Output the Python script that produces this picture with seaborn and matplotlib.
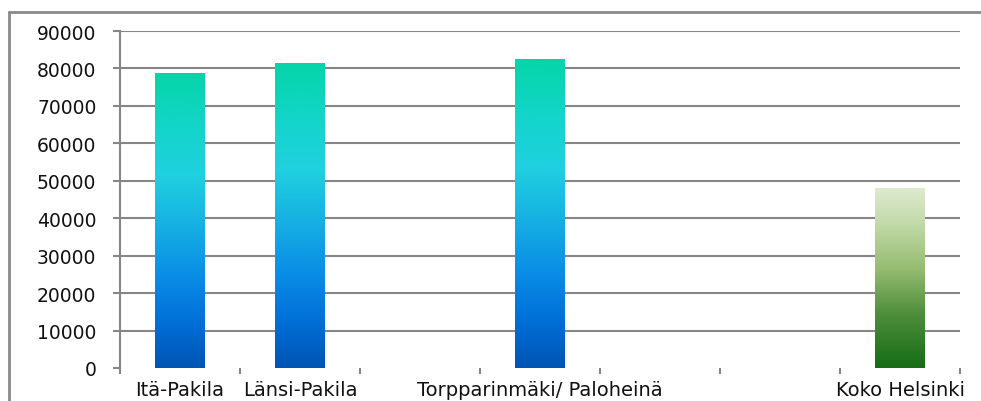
import numpy as np
import pandas as pd
import matplotlib
matplotlib.use("Agg")
import matplotlib.pyplot as plt
from matplotlib.colors import LinearSegmentedColormap
from matplotlib.lines import Line2D
import seaborn as sns

# Category slots along the x axis (blank slots keep their spacing)
slots = ["Itä-Pakila", "Länsi-Pakila", " ", "Torpparinmäki/ Paloheinä", "  ", "   ", "Koko Helsinki"]
areas = ["Itä-Pakila", "Länsi-Pakila", "Torpparinmäki/ Paloheinä", "Koko Helsinki"]
values = [78800, 81400, 82500, 48000]
yticks = [0, 10000, 20000, 30000, 40000, 50000, 60000, 70000, 80000, 90000]

df = pd.DataFrame({"alue": areas, "arvo": values})

sns.set_theme(style="white")
plt.rcParams["font.family"] = ["DejaVu Sans"]

fig = plt.figure(figsize=(9.81, 4.02), dpi=100)
ax = fig.add_axes([120 / 981, 33 / 402, 840 / 981, 337 / 402])

sns.barplot(data=df, x="alue", y="arvo", order=slots, width=0.41,
            color="#1a9be0", ax=ax, zorder=3)

# Vertical gradient fills for the bars
blue = LinearSegmentedColormap.from_list("blue", [
    (0.0, "#0054B3"), (0.15, "#006FD7"), (0.3, "#0A8BE6"),
    (0.5, "#17B4E2"), (0.65, "#20D0E0"), (0.8, "#14D5CC"), (1.0, "#05D5A8")])
green = LinearSegmentedColormap.from_list("green", [
    (0.0, "#166C15"), (0.3, "#4E8E3C"), (0.55, "#95BC70"),
    (0.8, "#C2D9A8"), (1.0, "#DEEACF")])

grad = np.linspace(0, 1, 256).reshape(-1, 1)
for patch in list(ax.patches):
    x0, w, h = patch.get_x(), patch.get_width(), patch.get_height()
    if not np.isfinite(h) or h <= 0:
        continue
    idx = int(round(x0 + w / 2))
    cmap = green if slots[idx] == "Koko Helsinki" else blue
    patch.set_facecolor("none")
    patch.set_edgecolor("none")
    im = ax.imshow(grad, extent=[x0, x0 + w, 0, h], origin="lower",
                   aspect="auto", cmap=cmap, zorder=3, interpolation="bilinear")
    im.set_clip_path(patch)

ax.set_xlim(-0.5, len(slots) - 0.5)
ax.set_ylim(0, 90000)
ax.set_yticks(yticks)
ax.set_yticklabels([str(v) for v in yticks])
ax.set_xlabel("")
ax.set_ylabel("")

grid_c = "#868686"
ax.yaxis.grid(True, color=grid_c, linewidth=1.5, zorder=0)
ax.xaxis.grid(False)
# no gridline along the zero baseline
ax.yaxis.get_gridlines()[0].set_visible(False)
for s in ["top", "right", "bottom"]:
    ax.spines[s].set_visible(False)
ax.spines["left"].set_color(grid_c)
ax.spines["left"].set_linewidth(1.5)

ax.tick_params(axis="y", length=5, width=1.5, color=grid_c, pad=12,
               labelsize=13.5, labelcolor="#111111", left=True)
ax.set_xticks(np.arange(-0.5, len(slots), 1.0), minor=True)
ax.tick_params(axis="x", which="minor", length=4, width=1.5, color=grid_c, bottom=True)
ax.tick_params(axis="x", which="major", length=0, pad=9, labelsize=14,
               labelcolor="#111111")

# Outer chart frame (left and top edges)
fig.add_artist(Line2D([9 / 981, 9 / 981], [0, 1 - 13 / 402], transform=fig.transFigure,
                      color="#8a8a8a", linewidth=2))
fig.add_artist(Line2D([9 / 981, 1], [1 - 13 / 402, 1 - 13 / 402], transform=fig.transFigure,
                      color="#8a8a8a", linewidth=2))

fig.savefig("out.png", dpi=100)
